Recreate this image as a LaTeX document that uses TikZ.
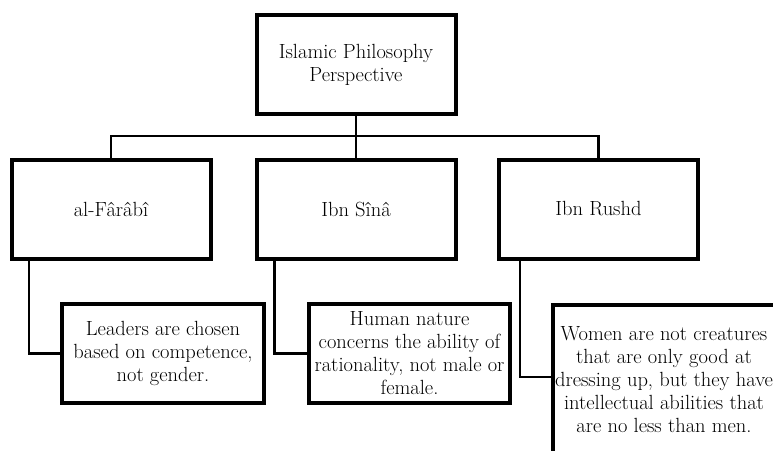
\documentclass[tikz,border=0pt]{standalone}
\usepackage{fontspec}
\usepackage{tikz}

\begin{document}
\begin{tikzpicture}[x=1pt,y=-1pt,
	box/.style={draw=black, line width=4pt, align=center, inner sep=0pt,
		minimum width=199pt, minimum height=99pt,
		font=\fontsize{20.5}{23}\selectfont},
	link/.style={draw=black, line width=2.3pt}]
			\clip (0,0) rectangle (773,450);
			\fill [white] (0,0) rectangle (773,450);
			% top level
			\node [box] (phil) at (356,64.5) {Islamic Philosophy\\Perspective};
			% philosophers
			\node [box] (farabi) at (111,209) {al-Fârâbî};
			\node [box] (sina) at (356,209) {Ibn Sînâ};
			\node [box] (rushd) at (598.5,209) {Ibn Rushd};
			% views
			\node [box, minimum width=202pt] (leaders) at (163,353.5) {Leaders are chosen\\based on competence,\\not gender.};
			\node [box, minimum width=201pt] (nature) at (409.5,353.5) {Human nature\\concerns the ability of\\rationality, not male or\\female.};
			\node [box, minimum width=222pt, minimum height=150pt] (women) at (664,379.5) {Women are not creatures\\that are only good at\\dressing up, but they have\\intellectual abilities that\\are no less than men.};
			\coordinate (bus) at (0,136);
			\draw [link] (phil.south) -- (phil.south |- bus);
			\draw [link] (farabi.north) -- (farabi.north |- bus) -- (rushd.north |- bus) -- (rushd.north);
			\draw [link] (sina.north) -- (sina.north |- bus);
			\draw [link] ([xshift=19.5pt]farabi.south west) |- (leaders.west);
			\draw [link] ([xshift=20pt]sina.south west) |- (nature.west);
			\draw [link] ([xshift=23pt]rushd.south west) |- ([yshift=2.5pt]women.west);
\end{tikzpicture}
\end{document}
